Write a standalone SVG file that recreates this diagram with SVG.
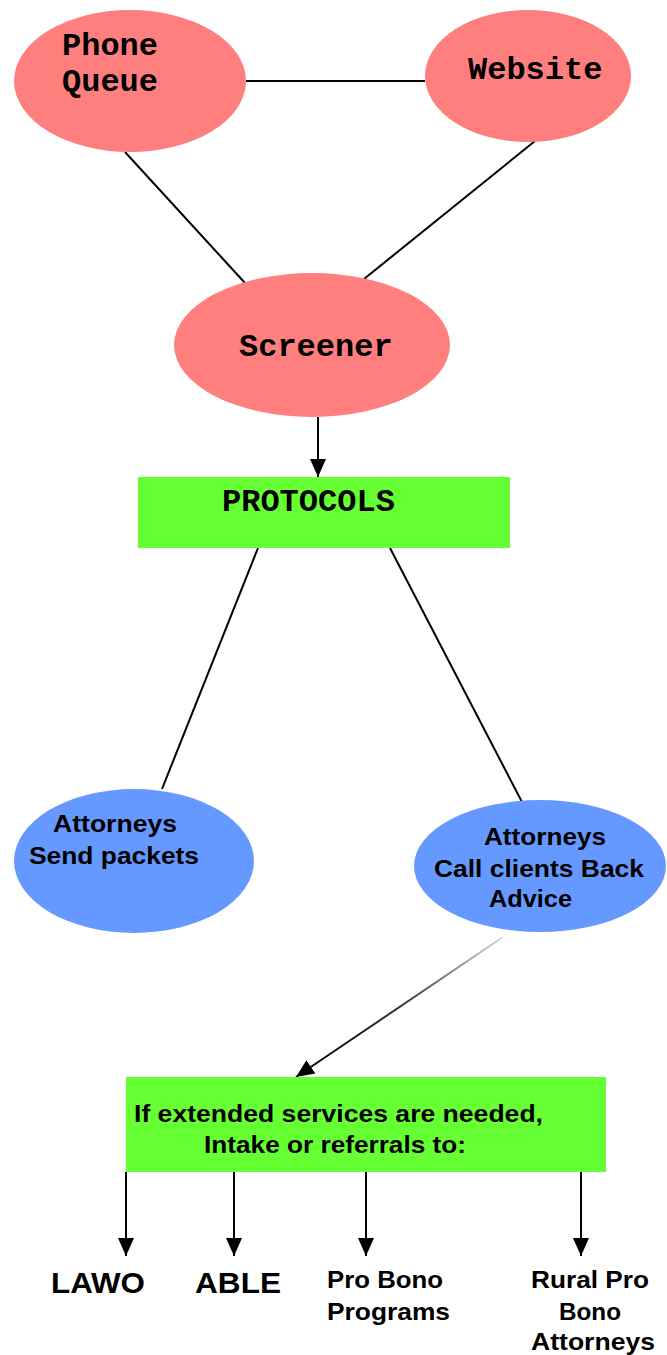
<svg xmlns="http://www.w3.org/2000/svg" width="667" height="1355" viewBox="0 0 667 1355">
<style>
.pink{fill:#FF7F7F}
.blue{fill:#6699FF}
.green{fill:#66FF33}
.mono{font-family:"Liberation Mono","Courier New",monospace;font-weight:bold;font-size:32px;fill:#000}
.sans{font-family:"Liberation Sans",Arial,sans-serif;font-weight:bold;font-size:24px;fill:#000}
.big{font-size:30px}
.ln{stroke:#000;stroke-width:2;fill:none}
</style>
<defs>
<marker id="ah" markerUnits="userSpaceOnUse" markerWidth="18" markerHeight="18" viewBox="0 0 18 18" refX="18" refY="9" orient="auto">
<path d="M0,1 L18,9 L0,17 Z" fill="#000"/>
</marker>
<linearGradient id="fade" gradientUnits="userSpaceOnUse" x1="503" y1="937" x2="296" y2="1077">
<stop offset="0" stop-color="#000" stop-opacity="0.15"/>
<stop offset="0.5" stop-color="#000" stop-opacity="0.8"/>
<stop offset="1" stop-color="#000"/>
</linearGradient>
</defs>
<g id="connectors">
<line class="ln" x1="246" y1="81" x2="425" y2="81"/>
<line class="ln" x1="125" y1="152" x2="245" y2="283"/>
<line class="ln" x1="535" y1="141" x2="364" y2="279"/>
<line class="ln" x1="318" y1="417" x2="318" y2="477" marker-end="url(#ah)"/>
<line class="ln" x1="258" y1="548" x2="162" y2="789"/>
<line class="ln" x1="390" y1="548" x2="522" y2="802"/>
<line x1="503" y1="937" x2="296" y2="1077" stroke="url(#fade)" stroke-width="2" marker-end="url(#ah)"/>
<line class="ln" x1="126" y1="1172" x2="126" y2="1256" marker-end="url(#ah)"/>
<line class="ln" x1="234" y1="1172" x2="234" y2="1256" marker-end="url(#ah)"/>
<line class="ln" x1="366" y1="1172" x2="366" y2="1256" marker-end="url(#ah)"/>
<line class="ln" x1="581" y1="1172" x2="581" y2="1256" marker-end="url(#ah)"/>
</g>
<g id="phone-queue">
<ellipse class="pink" cx="130" cy="81" rx="116" ry="71"/>
<text class="mono" x="62" y="55">Phone</text>
<text class="mono" x="62" y="91">Queue</text>
</g>
<g id="website">
<ellipse class="pink" cx="528" cy="76" rx="103" ry="66"/>
<text class="mono" x="468" y="79">Website</text>
</g>
<g id="screener">
<ellipse class="pink" cx="312" cy="345" rx="138" ry="72"/>
<text class="mono" x="239" y="356">Screener</text>
</g>
<g id="protocols">
<rect class="green" x="138" y="477" width="372" height="71"/>
<text class="mono" x="222" y="511">PROTOCOLS</text>
</g>
<g id="send-packets">
<ellipse class="blue" cx="134" cy="861" rx="120" ry="72"/>
<text class="sans" x="53" y="832" textLength="124" lengthAdjust="spacingAndGlyphs">Attorneys</text>
<text class="sans" x="29" y="864" textLength="170" lengthAdjust="spacingAndGlyphs">Send packets</text>
</g>
<g id="call-back">
<ellipse class="blue" cx="540" cy="866" rx="126" ry="66"/>
<text class="sans" x="484" y="845" textLength="122" lengthAdjust="spacingAndGlyphs">Attorneys</text>
<text class="sans" x="434" y="877" textLength="210" lengthAdjust="spacingAndGlyphs">Call clients Back</text>
<text class="sans" x="489" y="907" textLength="83" lengthAdjust="spacingAndGlyphs">Advice</text>
</g>
<g id="extended">
<rect class="green" x="126" y="1077" width="480" height="95"/>
<text class="sans" x="134" y="1122" textLength="409" lengthAdjust="spacingAndGlyphs">If extended services are needed,</text>
<text class="sans" x="204" y="1153" textLength="262" lengthAdjust="spacingAndGlyphs">Intake or referrals to:</text>
</g>
<g id="lawo">
<text class="sans big" x="51" y="1293" textLength="94" lengthAdjust="spacingAndGlyphs">LAWO</text>
</g>
<g id="able">
<text class="sans big" x="195" y="1293" textLength="86" lengthAdjust="spacingAndGlyphs">ABLE</text>
</g>
<g id="pro-bono">
<text class="sans" x="327" y="1288" textLength="116" lengthAdjust="spacingAndGlyphs">Pro Bono</text>
<text class="sans" x="327" y="1320" textLength="123" lengthAdjust="spacingAndGlyphs">Programs</text>
</g>
<g id="rural">
<text class="sans" x="531" y="1288" textLength="118" lengthAdjust="spacingAndGlyphs">Rural Pro</text>
<text class="sans" x="559" y="1320" textLength="62" lengthAdjust="spacingAndGlyphs">Bono</text>
<text class="sans" x="531" y="1350" textLength="124" lengthAdjust="spacingAndGlyphs">Attorneys</text>
</g>
</svg>
